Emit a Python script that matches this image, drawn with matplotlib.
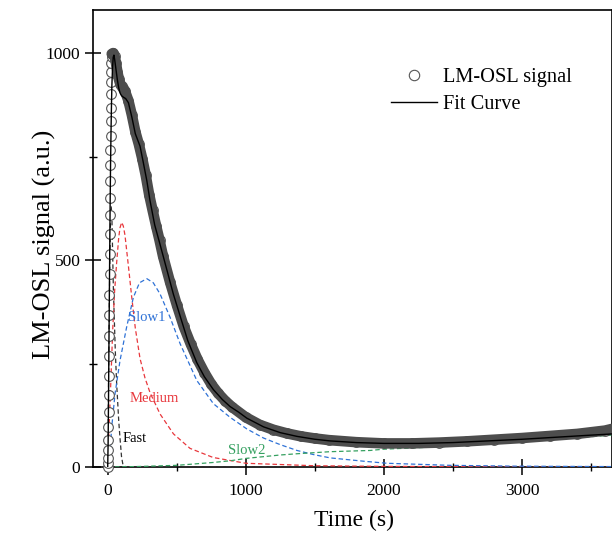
import matplotlib
matplotlib.use("Agg")
import matplotlib.pyplot as plt
from matplotlib.lines import Line2D

plt.rcParams['font.family'] = ['Liberation Serif', 'DejaVu Serif']

signal_t = [0, 1, 2, 3, 4, 5, 6, 7, 8, 9, 10, 11, 12, 13, 14, 15, 16, 17, 18, 19,
            20, 21, 22, 23, 24, 25, 26, 27, 28, 29,
            40, 50, 60, 70, 80, 90, 100, 110, 125, 150, 175, 200, 225, 250, 275,
            300, 325, 350, 375, 400, 450, 500, 550, 600, 650, 700, 750, 800, 850,
            900, 1000, 1100, 1200, 1300, 1400, 1500, 1600, 1800, 2000, 2200, 2400,
            2600, 2800, 3000, 3200, 3400, 3600, 3650]
signal_v = [0, 10, 22, 40, 65, 96, 133, 175, 220, 268, 316, 366, 416, 466, 515,
            563, 608, 650, 692, 730, 766, 800, 835, 868, 900, 930, 955, 975, 990, 998,
            1000, 992, 975, 955, 938, 926, 920, 915, 908, 885, 850, 810, 780, 745, 705,
            658, 620, 583, 548, 510, 448, 392, 340, 298, 260, 228, 200, 178, 160,
            145, 120, 102, 90, 81, 74, 69, 65, 60, 57, 57, 59,
            62, 66, 70, 75, 80, 88, 92]

# fitted sum curve
fit_t = [0, 3, 6, 9, 12, 15, 18, 21, 24, 27, 30, 35, 40, 45, 50, 60, 70, 80, 90,
         100, 115, 130, 150, 175, 200, 234, 258, 283, 306, 340, 377, 410, 475, 524,
         580, 645, 700, 765, 830, 886, 950, 1007, 1128, 1249, 1370, 1500, 1611,
         1800, 2000, 2250, 2500, 2750, 3000, 3250, 3500, 3660]
fit_v = [0, 60, 170, 300, 420, 540, 650, 740, 810, 870, 920, 965, 990, 995, 985,
         960, 935, 915, 903, 897, 893, 890, 880, 845, 805, 775, 735, 692, 644, 585,
         540, 499, 418, 365, 305, 252, 218, 187, 163, 146, 132, 118, 97, 83, 74, 67,
         63, 59, 57, 57, 59, 63, 67, 72, 77, 80]

# components
fast_t = [0, 5, 10, 15, 20, 25, 30, 41, 55, 65, 80, 89, 100, 110, 130, 200, 3650]
fast_v = [0, 170, 340, 490, 590, 630, 610, 430, 280, 200, 110, 70, 25, 6, 0, 0, 0]

medium_t = [0, 10, 22, 36, 50, 65, 80, 89, 101, 113, 125, 150, 174, 200, 234, 270,
            306, 379, 476, 596, 763, 1000, 1500, 2000, 3000, 3650]
medium_v = [0, 95, 200, 330, 425, 495, 555, 578, 591, 582, 560, 485, 410, 335, 262,
            215, 180, 128, 80, 45, 23, 9, 3, 1.5, 0.5, 0.3]

slow1_t = [0, 12, 29, 53, 89, 137, 186, 230, 283, 330, 379, 451, 524, 645, 765, 886,
           1007, 1128, 1249, 1370, 1490, 1611, 1852, 2022, 2480, 2960, 3650]
slow1_v = [0, 16, 96, 177, 257, 338, 410, 445, 455, 445, 418, 362, 298, 209, 153, 120,
           92, 70, 54, 40, 30, 22, 14, 9, 4, 2, 1]

slow2_t = [0, 200, 500, 765, 886, 1007, 1128, 1249, 1370, 1514, 1611, 1901, 1997,
           2480, 2964, 3109, 3446, 3650]
slow2_v = [0, 1, 4, 11, 15, 21, 25, 29, 32, 35, 37, 40, 43, 50, 60, 64, 72, 77]

labels = ['Fast', 'Medium', 'Slow1', 'Slow2']
label_x = [110, 160, 150, 870]
label_y = [68, 166, 360, 40]
colors = ['#333333', '#e8383d', '#2f72d6', '#35a060']
label_colors = ['black', '#e8383d', '#2f72d6', '#35a060']

fig = plt.figure(figsize=(6.12, 5.34), dpi=100)
ax = fig.add_axes([93 / 612, 67 / 534, 519 / 612, 457 / 534])

dash = (3.6, 2.2)
for (tt, vv), c in zip([(fast_t, fast_v), (medium_t, medium_v),
                        (slow1_t, slow1_v), (slow2_t, slow2_v)], colors):
    ax.plot(tt, vv, color=c, lw=0.9, dashes=dash, zorder=3)

# measured points: open circles, the dense part merges into a band
ax.plot(signal_t, signal_v, 'o', ms=7, mfc='white', mec='#555555', mew=0.8,
        ls='none', zorder=4, clip_on=False)
ax.plot(signal_t[29:], signal_v[29:], color='#4d4d4d', lw=7.6,
        solid_capstyle='round', zorder=5)
ax.plot(fit_t, fit_v, color='black', lw=1.0, zorder=6)

for name, tx, vy, c in zip(labels, label_x, label_y, label_colors):
    ax.text(tx, vy, name, fontsize=10.5, color=c, va='center', ha='left', zorder=7)

ax.set_xlim(-106.5, 3651)
ax.set_ylim(0, 1104)
ax.set_xticks([0, 1000, 2000, 3000])
ax.set_xticks([500, 1500, 2500, 3500], minor=True)
ax.set_yticks([0, 500, 1000])
ax.set_yticks([250, 750], minor=True)
ax.tick_params(axis='x', which='major', pad=6)
ax.tick_params(which='major', direction='inout', length=11, width=1.1, labelsize=12.5)
ax.tick_params(which='minor', direction='inout', length=6, width=1.0)
for s in ax.spines.values():
    s.set_linewidth(1.2)

ax.set_xlabel('Time (s)', fontsize=17)
ax.xaxis.set_label_coords(0.502, -0.094)
ax.set_ylabel('LM-OSL signal (a.u.)', fontsize=19)
ax.yaxis.set_label_coords(-0.071, 0.488)

handles = [Line2D([], [], marker='o', ls='none', ms=7.5, mfc='white', mec='#555555', mew=0.8),
           Line2D([], [], color='black', lw=1.0)]
ax.legend(handles, ['LM-OSL signal', 'Fit Curve'], frameon=False, fontsize=14.7,
          loc='upper left', bbox_to_anchor=(391 / 612, 1 - 68 / 534),
          bbox_transform=fig.transFigure, handlelength=2.25, handletextpad=0.3,
          labelspacing=0.35, borderpad=0, borderaxespad=0, numpoints=1)

fig.savefig('out.png', dpi=100)
